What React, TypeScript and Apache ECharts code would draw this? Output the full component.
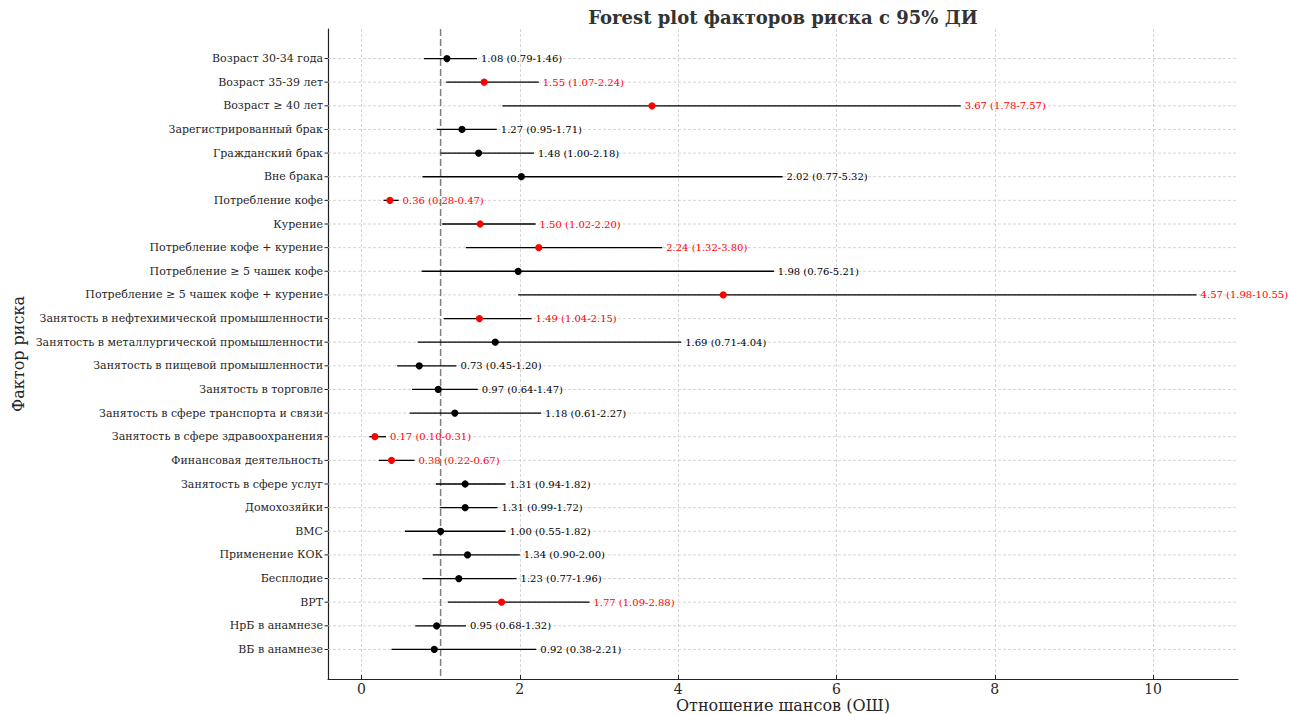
import React, { useEffect, useRef } from 'react';
import * as echarts from 'echarts';

const categories = [
  'Возраст 30-34 года',
  'Возраст 35-39 лет',
  'Возраст ≥ 40 лет',
  'Зарегистрированный брак',
  'Гражданский брак',
  'Вне брака',
  'Потребление кофе',
  'Курение',
  'Потребление кофе + курение',
  'Потребление ≥ 5 чашек кофе',
  'Потребление ≥ 5 чашек кофе + курение',
  'Занятость в нефтехимической промышленности',
  'Занятость в металлургической промышленности',
  'Занятость в пищевой промышленности',
  'Занятость в торговле',
  'Занятость в сфере транспорта и связи',
  'Занятость в сфере здравоохранения',
  'Финансовая деятельность',
  'Занятость в сфере услуг',
  'Домохозяйки',
  'ВМС',
  'Применение КОК',
  'Бесплодие',
  'ВРТ',
  'НрБ в анамнезе',
  'ВБ в анамнезе',
];

const oddsRatio = [1.08, 1.55, 3.67, 1.27, 1.48, 2.02, 0.36, 1.5, 2.24, 1.98, 4.57, 1.49, 1.69, 0.73, 0.97, 1.18, 0.17, 0.38, 1.31, 1.31, 1.0, 1.34, 1.23, 1.77, 0.95, 0.92];
const ciLow = [0.79, 1.07, 1.78, 0.95, 1.0, 0.77, 0.28, 1.02, 1.32, 0.76, 1.98, 1.04, 0.71, 0.45, 0.64, 0.61, 0.1, 0.22, 0.94, 0.99, 0.55, 0.9, 0.77, 1.09, 0.68, 0.38];
const ciHigh = [1.46, 2.24, 7.57, 1.71, 2.18, 5.32, 0.47, 2.2, 3.8, 5.21, 10.55, 2.15, 4.04, 1.2, 1.47, 2.27, 0.31, 0.67, 1.82, 1.72, 1.82, 2.0, 1.96, 2.88, 1.32, 2.21];
const xTickLabels = [0, 2, 4, 6, 8, 10];
const referenceValue = 1;

const FONT = '"DejaVu Serif", serif';

export default function App() {
  const ref = useRef<HTMLDivElement>(null);
  useEffect(() => {
    const chart = echarts.init(ref.current as HTMLDivElement, null, { renderer: 'svg' });
    const n = categories.length;
    const lo = Math.min(...ciLow);
    const hi = Math.max(...ciHigh);
    const pad = (hi - lo) * 0.05;

    const rows = categories.map((_, i) => [oddsRatio[i], i, ciLow[i], ciHigh[i]]);

    const option: any = {
      animation: false,
      backgroundColor: '#ffffff',
      title: {
        text: 'Forest plot факторов риска с 95% ДИ',
        left: 778,
        top: 3,
        textAlign: 'center',
        textStyle: { fontFamily: FONT, fontSize: 18, fontWeight: 'bold', color: '#333333' },
      },
      grid: { left: 328, right: 52, top: 29, bottom: 35, outerBoundsMode: 'none', containLabel: false },
      xAxis: {
        type: 'value',
        min: lo - pad,
        max: hi + pad,
        splitNumber: 5,
        name: 'Отношение шансов (ОШ)',
        nameLocation: 'middle',
        nameGap: 18,
        nameMoveOverlap: false,
        nameTextStyle: { fontFamily: FONT, fontSize: 16, lineHeight: 16, color: '#262626' },
        axisLine: { onZero: false, lineStyle: { color: '#222222', width: 1.2 } },
        axisTick: { inside: true, length: 4, lineStyle: { color: '#222222', width: 1 } },
        axisLabel: {
          showMinLabel: false,
          showMaxLabel: false,
          margin: 3,
          fontFamily: FONT,
          fontSize: 14,
          lineHeight: 14,
          color: '#262626',
          formatter: (v: number) => (xTickLabels.includes(v) ? String(v) : ''),
        },
        splitLine: {
          show: true,
          showMinLine: false,
          showMaxLine: false,
          lineStyle: { type: [3, 2], color: '#cccccc', width: 0.8 },
        },
      },
      yAxis: {
        type: 'value',
        inverse: true,
        min: -1.25,
        max: n - 1 + 1.25,
        name: 'Фактор риска',
        nameLocation: 'middle',
        nameRotate: 90,
        nameGap: 302,
        nameMoveOverlap: false,
        nameTextStyle: { fontFamily: FONT, fontSize: 16, color: '#262626' },
        axisLine: { show: true, onZero: false, lineStyle: { color: '#222222', width: 1.2 } },
        axisTick: { show: false },
        axisLabel: { show: false },
        splitLine: { show: false },
      },
      series: [
        {
          type: 'custom',
          name: 'frame',
          data: categories.map((_, i) => [0, i]),
          renderItem: (params: any, api: any) => {
            const i = api.value(1);
            const cs = params.coordSys;
            const y = api.coord([0, i])[1];
            return {
              type: 'group',
              children: [
                {
                  type: 'line',
                  shape: { x1: cs.x, y1: y, x2: cs.x + cs.width, y2: y },
                  style: { stroke: '#cccccc', lineWidth: 0.8, lineDash: [3, 2] },
                },
                {
                  type: 'line',
                  shape: { x1: cs.x - 3.5, y1: y, x2: cs.x, y2: y },
                  style: { stroke: '#222222', lineWidth: 1 },
                },
                {
                  type: 'text',
                  style: {
                    x: cs.x - 5,
                    y,
                    text: categories[i],
                    fill: '#262626',
                    font: `11px ${FONT}`,
                    align: 'right',
                    verticalAlign: 'middle',
                  },
                },
              ],
            };
          },
        },
        {
          type: 'custom',
          name: 'reference',
          data: [[referenceValue, 0]],
          renderItem: (params: any, api: any) => {
            const cs = params.coordSys;
            const x = api.coord([api.value(0), 0])[0];
            return {
              type: 'line',
              shape: { x1: x, y1: cs.y, x2: x, y2: cs.y + cs.height },
              style: { stroke: '#808080', lineWidth: 1.5, lineDash: [7, 3] },
            };
          },
        },
        {
          type: 'custom',
          name: 'ci',
          data: rows,
          renderItem: (params: any, api: any) => {
            const or = api.value(0);
            const i = api.value(1);
            const l = api.value(2);
            const h = api.value(3);
            const sig = l > 1 || h < 1;
            const color = sig ? '#ff0000' : '#000000';
            const pL = api.coord([l, i]);
            const pH = api.coord([h, i]);
            const pO = api.coord([or, i]);
            const pT = api.coord([h + 0.05, i]);
            return {
              type: 'group',
              children: [
                {
                  type: 'line',
                  shape: { x1: pL[0], y1: pL[1], x2: pH[0], y2: pH[1] },
                  style: { stroke: '#000000', lineWidth: 1.3 },
                },
                {
                  type: 'circle',
                  shape: { cx: pO[0], cy: pO[1], r: 3.6 },
                  style: { fill: color },
                },
                {
                  type: 'text',
                  style: {
                    x: pT[0],
                    y: pT[1],
                    text: `${or.toFixed(2)} (${l.toFixed(2)}-${h.toFixed(2)})`,
                    fill: color,
                    font: `10px ${FONT}`,
                    align: 'left',
                    verticalAlign: 'middle',
                  },
                },
              ],
            };
          },
        },
      ],
    };
    chart.setOption(option);
    return () => chart.dispose();
  }, []);
  return (
    <div
      ref={ref}
      style={{ position: 'fixed', left: 0, top: 0, width: 1290, height: 714, background: '#fff' }}
    />
  );
}
